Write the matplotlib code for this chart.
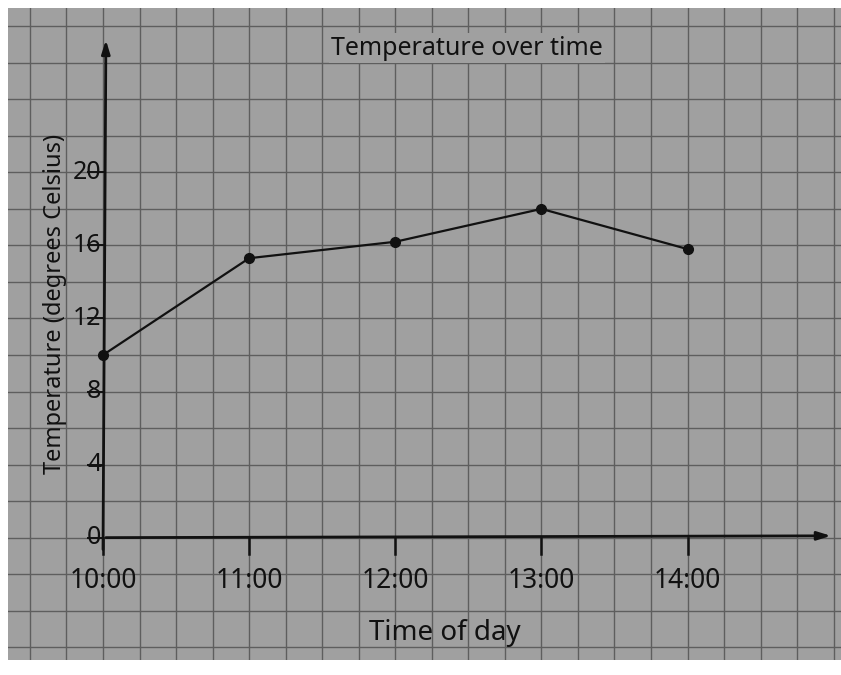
import numpy as np
import matplotlib.pyplot as plt

times = ["10:00", "11:00", "12:00", "13:00", "14:00"]
hours = [10, 11, 12, 13, 14]
temps = [10, 15.3, 16.2, 18, 15.8]
yticks = [0, 4, 8, 12, 16, 20]

paper = "#a0a0a0"
ink = "#111111"
plt.rcParams["font.family"] = ["Noto Sans", "DejaVu Sans"]

fig = plt.figure(figsize=(8.41, 6.75), dpi=100, facecolor="white")
ax = fig.add_axes([8 / 841, 15 / 675, 833 / 841, 652 / 675])
ax.set_facecolor(paper)
ax.set_xlim(9.35, 15.05)
ax.set_ylim(-6.7, 29.0)
for s in ax.spines.values():
    s.set_visible(False)
ax.set_xticks([])
ax.set_yticks([])

# squared paper: 15 min by 2 degrees
for gx in np.arange(9.5, 15.1, 0.25):
    ax.axvline(gx, color="#5e5e5e", lw=1.0, zorder=1)
for gy in np.arange(-6, 29, 2):
    ax.axhline(gy, color="#5e5e5e", lw=1.0, zorder=1)

# axes with arrows
ax.annotate("", xy=(10.02, 27.4), xytext=(10, -0.8),
            arrowprops=dict(arrowstyle="-|>,head_length=0.8,head_width=0.25",
                            color=ink, lw=2), zorder=3)
ax.annotate("", xy=(15.0, 0.1), xytext=(10, 0),
            arrowprops=dict(arrowstyle="-|>,head_length=0.8,head_width=0.25",
                            color=ink, lw=2), zorder=3)

for h, lab in zip(hours, times):
    ax.plot([h, h], [0, -0.9], color=ink, lw=1.8, zorder=3)
    ax.text(h, -2.4, lab, ha="center", va="center", fontsize=19, color=ink)
for v in yticks:
    ax.plot([9.9, 10.0], [v, v], color=ink, lw=1.4, zorder=3)
    ax.text(9.99, v, str(v), ha="right", va="center", fontsize=18, color=ink)

ax.plot(hours, temps, color=ink, lw=1.6, marker="o", ms=7, zorder=4)

ax.text(12.49, 26.8, "Temperature over time", ha="center", va="center",
        fontsize=18, color=ink, zorder=5,
        bbox=dict(boxstyle="square,pad=0.1", fc=paper, ec="none"))
ax.text(9.67, 12.8, "Temperature (degrees Celsius)", ha="center", va="center",
        rotation=90, fontsize=17, color=ink)
ax.text(12.34, -5.2, "Time of day", ha="center", va="center",
        fontsize=20, color=ink, zorder=5)

fig.savefig("out.png", dpi=100, facecolor="white")
